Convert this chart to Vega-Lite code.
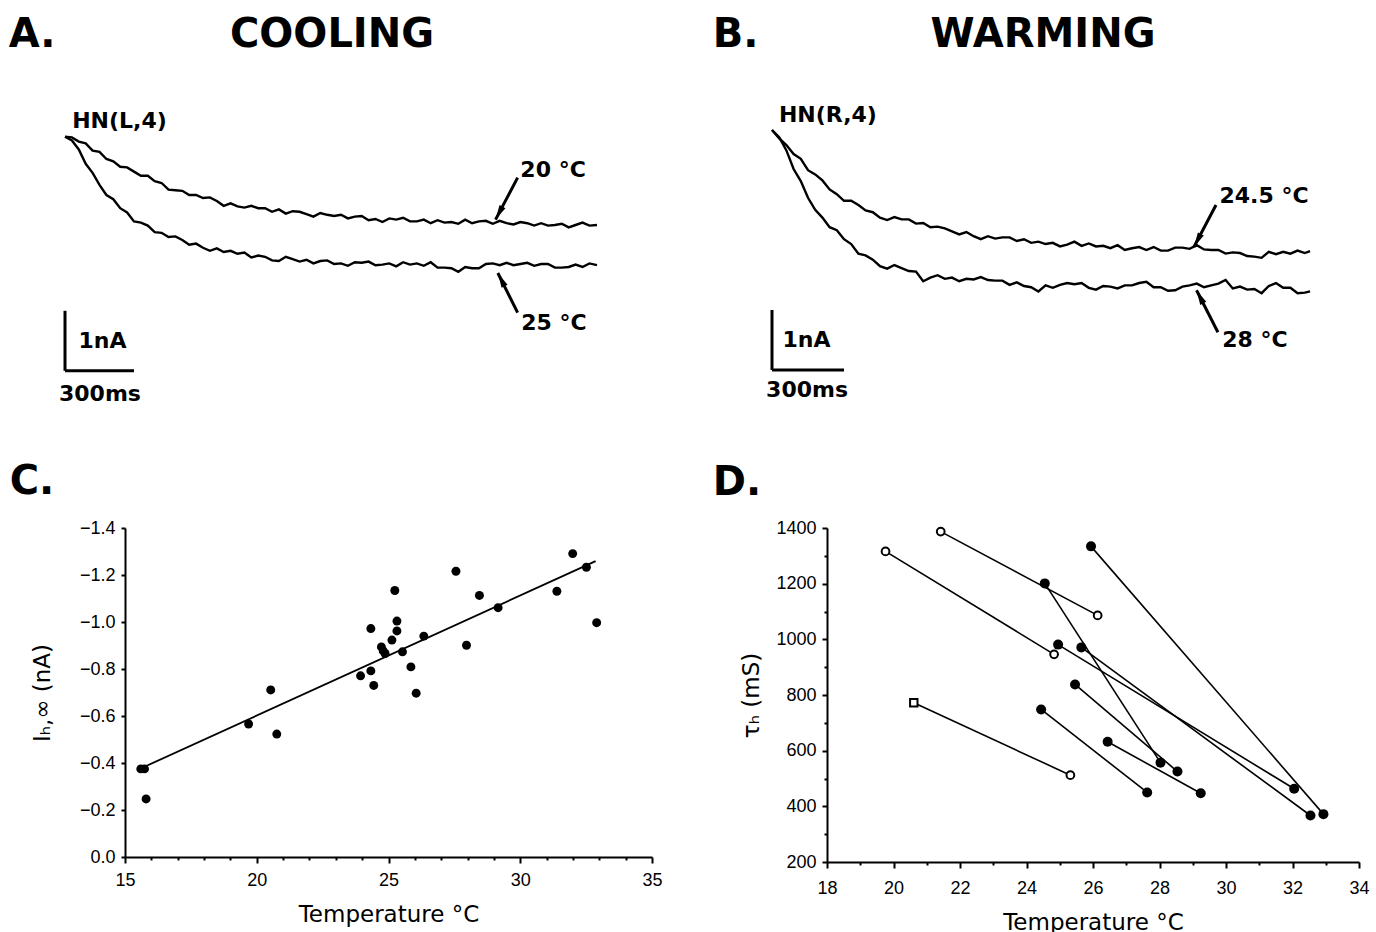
{
  "$schema": "https://vega.github.io/schema/vega-lite/v6.json",
  "background": "white",
  "padding": 0,
  "bounds": "flush",
  "spacing": 108,
  "datasets": {
    "a_tr": [
      {"s":"20","t":0,"i":0},{"s":"20","t":30,"i":-0.01},{"s":"20","t":60,"i":-0.08},{"s":"20","t":90,"i":-0.11},{"s":"20","t":120,"i":-0.23},{"s":"20","t":150,"i":-0.25},{"s":"20","t":180,"i":-0.37},{"s":"20","t":210,"i":-0.41},{"s":"20","t":240,"i":-0.50},{"s":"20","t":270,"i":-0.51},{"s":"20","t":300,"i":-0.58},{"s":"20","t":330,"i":-0.65},{"s":"20","t":360,"i":-0.65},{"s":"20","t":390,"i":-0.74},{"s":"20","t":420,"i":-0.77},{"s":"20","t":450,"i":-0.88},{"s":"20","t":480,"i":-0.89},{"s":"20","t":510,"i":-0.90},{"s":"20","t":540,"i":-0.97},{"s":"20","t":570,"i":-0.97},{"s":"20","t":600,"i":-1.02},{"s":"20","t":630,"i":-1.01},{"s":"20","t":660,"i":-1.07},{"s":"20","t":690,"i":-1.15},{"s":"20","t":720,"i":-1.11},{"s":"20","t":750,"i":-1.16},{"s":"20","t":780,"i":-1.18},{"s":"20","t":810,"i":-1.15},{"s":"20","t":840,"i":-1.19},{"s":"20","t":870,"i":-1.19},{"s":"20","t":900,"i":-1.25},{"s":"20","t":930,"i":-1.21},{"s":"20","t":960,"i":-1.28},{"s":"20","t":990,"i":-1.24},{"s":"20","t":1020,"i":-1.25},{"s":"20","t":1050,"i":-1.29},{"s":"20","t":1080,"i":-1.33},{"s":"20","t":1110,"i":-1.27},{"s":"20","t":1140,"i":-1.30},{"s":"20","t":1170,"i":-1.32},{"s":"20","t":1200,"i":-1.30},{"s":"20","t":1230,"i":-1.36},{"s":"20","t":1260,"i":-1.33},{"s":"20","t":1290,"i":-1.32},{"s":"20","t":1320,"i":-1.39},{"s":"20","t":1350,"i":-1.37},{"s":"20","t":1380,"i":-1.42},{"s":"20","t":1410,"i":-1.36},{"s":"20","t":1440,"i":-1.38},{"s":"20","t":1470,"i":-1.35},{"s":"20","t":1500,"i":-1.41},{"s":"20","t":1530,"i":-1.41},{"s":"20","t":1560,"i":-1.38},{"s":"20","t":1590,"i":-1.44},{"s":"20","t":1620,"i":-1.39},{"s":"20","t":1650,"i":-1.43},{"s":"20","t":1680,"i":-1.42},{"s":"20","t":1710,"i":-1.45},{"s":"20","t":1740,"i":-1.38},{"s":"20","t":1770,"i":-1.44},{"s":"20","t":1800,"i":-1.41},{"s":"20","t":1830,"i":-1.40},{"s":"20","t":1860,"i":-1.45},{"s":"20","t":1890,"i":-1.40},{"s":"20","t":1920,"i":-1.44},{"s":"20","t":1950,"i":-1.46},{"s":"20","t":1980,"i":-1.42},{"s":"20","t":2010,"i":-1.44},{"s":"20","t":2040,"i":-1.48},{"s":"20","t":2070,"i":-1.44},{"s":"20","t":2100,"i":-1.48},{"s":"20","t":2130,"i":-1.47},{"s":"20","t":2160,"i":-1.45},{"s":"20","t":2190,"i":-1.51},{"s":"20","t":2220,"i":-1.47},{"s":"20","t":2250,"i":-1.43},{"s":"20","t":2280,"i":-1.48},{"s":"20","t":2313,"i":-1.47},
      {"s":"25","t":0,"i":0},{"s":"25","t":30,"i":-0.06},{"s":"25","t":60,"i":-0.21},{"s":"25","t":90,"i":-0.45},{"s":"25","t":120,"i":-0.60},{"s":"25","t":150,"i":-0.80},{"s":"25","t":180,"i":-0.97},{"s":"25","t":210,"i":-1.04},{"s":"25","t":240,"i":-1.19},{"s":"25","t":270,"i":-1.26},{"s":"25","t":300,"i":-1.41},{"s":"25","t":330,"i":-1.43},{"s":"25","t":360,"i":-1.48},{"s":"25","t":390,"i":-1.59},{"s":"25","t":420,"i":-1.60},{"s":"25","t":450,"i":-1.67},{"s":"25","t":480,"i":-1.66},{"s":"25","t":510,"i":-1.72},{"s":"25","t":540,"i":-1.80},{"s":"25","t":570,"i":-1.78},{"s":"25","t":600,"i":-1.85},{"s":"25","t":630,"i":-1.90},{"s":"25","t":660,"i":-1.86},{"s":"25","t":690,"i":-1.92},{"s":"25","t":720,"i":-1.90},{"s":"25","t":750,"i":-1.95},{"s":"25","t":780,"i":-1.93},{"s":"25","t":810,"i":-2.01},{"s":"25","t":840,"i":-1.98},{"s":"25","t":870,"i":-2.00},{"s":"25","t":900,"i":-2.06},{"s":"25","t":930,"i":-2.07},{"s":"25","t":960,"i":-2.00},{"s":"25","t":990,"i":-2.04},{"s":"25","t":1020,"i":-2.08},{"s":"25","t":1050,"i":-2.05},{"s":"25","t":1080,"i":-2.11},{"s":"25","t":1110,"i":-2.07},{"s":"25","t":1140,"i":-2.06},{"s":"25","t":1170,"i":-2.12},{"s":"25","t":1200,"i":-2.11},{"s":"25","t":1230,"i":-2.15},{"s":"25","t":1260,"i":-2.09},{"s":"25","t":1290,"i":-2.10},{"s":"25","t":1320,"i":-2.08},{"s":"25","t":1350,"i":-2.14},{"s":"25","t":1380,"i":-2.13},{"s":"25","t":1410,"i":-2.11},{"s":"25","t":1440,"i":-2.16},{"s":"25","t":1470,"i":-2.09},{"s":"25","t":1500,"i":-2.13},{"s":"25","t":1530,"i":-2.11},{"s":"25","t":1560,"i":-2.15},{"s":"25","t":1590,"i":-2.09},{"s":"25","t":1620,"i":-2.18},{"s":"25","t":1650,"i":-2.18},{"s":"25","t":1680,"i":-2.19},{"s":"25","t":1710,"i":-2.25},{"s":"25","t":1740,"i":-2.17},{"s":"25","t":1770,"i":-2.19},{"s":"25","t":1800,"i":-2.19},{"s":"25","t":1830,"i":-2.12},{"s":"25","t":1860,"i":-2.11},{"s":"25","t":1890,"i":-2.14},{"s":"25","t":1920,"i":-2.10},{"s":"25","t":1950,"i":-2.14},{"s":"25","t":1980,"i":-2.12},{"s":"25","t":2010,"i":-2.10},{"s":"25","t":2040,"i":-2.15},{"s":"25","t":2070,"i":-2.12},{"s":"25","t":2100,"i":-2.12},{"s":"25","t":2130,"i":-2.18},{"s":"25","t":2160,"i":-2.18},{"s":"25","t":2190,"i":-2.17},{"s":"25","t":2220,"i":-2.13},{"s":"25","t":2250,"i":-2.17},{"s":"25","t":2280,"i":-2.11},{"s":"25","t":2313,"i":-2.14}
    ],
    "b_tr": [
      {"s":"24.5","t":0,"i":0},{"s":"24.5","t":30,"i":-0.14},{"s":"24.5","t":60,"i":-0.25},{"s":"24.5","t":90,"i":-0.40},{"s":"24.5","t":120,"i":-0.48},{"s":"24.5","t":150,"i":-0.67},{"s":"24.5","t":180,"i":-0.74},{"s":"24.5","t":210,"i":-0.84},{"s":"24.5","t":240,"i":-0.99},{"s":"24.5","t":270,"i":-1.07},{"s":"24.5","t":300,"i":-1.18},{"s":"24.5","t":330,"i":-1.18},{"s":"24.5","t":360,"i":-1.25},{"s":"24.5","t":390,"i":-1.34},{"s":"24.5","t":420,"i":-1.37},{"s":"24.5","t":450,"i":-1.46},{"s":"24.5","t":480,"i":-1.50},{"s":"24.5","t":510,"i":-1.45},{"s":"24.5","t":540,"i":-1.49},{"s":"24.5","t":570,"i":-1.49},{"s":"24.5","t":600,"i":-1.56},{"s":"24.5","t":630,"i":-1.55},{"s":"24.5","t":660,"i":-1.62},{"s":"24.5","t":690,"i":-1.61},{"s":"24.5","t":720,"i":-1.64},{"s":"24.5","t":750,"i":-1.69},{"s":"24.5","t":780,"i":-1.74},{"s":"24.5","t":810,"i":-1.70},{"s":"24.5","t":840,"i":-1.77},{"s":"24.5","t":870,"i":-1.82},{"s":"24.5","t":900,"i":-1.77},{"s":"24.5","t":930,"i":-1.81},{"s":"24.5","t":960,"i":-1.79},{"s":"24.5","t":990,"i":-1.79},{"s":"24.5","t":1020,"i":-1.85},{"s":"24.5","t":1050,"i":-1.82},{"s":"24.5","t":1080,"i":-1.88},{"s":"24.5","t":1110,"i":-1.86},{"s":"24.5","t":1140,"i":-1.90},{"s":"24.5","t":1170,"i":-1.88},{"s":"24.5","t":1200,"i":-1.94},{"s":"24.5","t":1230,"i":-1.91},{"s":"24.5","t":1260,"i":-1.86},{"s":"24.5","t":1290,"i":-1.93},{"s":"24.5","t":1320,"i":-1.89},{"s":"24.5","t":1350,"i":-1.94},{"s":"24.5","t":1380,"i":-1.93},{"s":"24.5","t":1410,"i":-1.97},{"s":"24.5","t":1440,"i":-1.92},{"s":"24.5","t":1470,"i":-2.00},{"s":"24.5","t":1500,"i":-1.97},{"s":"24.5","t":1530,"i":-1.95},{"s":"24.5","t":1560,"i":-2.00},{"s":"24.5","t":1590,"i":-1.95},{"s":"24.5","t":1620,"i":-2.01},{"s":"24.5","t":1650,"i":-2.01},{"s":"24.5","t":1680,"i":-1.96},{"s":"24.5","t":1710,"i":-1.96},{"s":"24.5","t":1740,"i":-1.98},{"s":"24.5","t":1770,"i":-1.92},{"s":"24.5","t":1800,"i":-1.99},{"s":"24.5","t":1830,"i":-2.00},{"s":"24.5","t":1860,"i":-2.00},{"s":"24.5","t":1890,"i":-2.06},{"s":"24.5","t":1920,"i":-2.04},{"s":"24.5","t":1950,"i":-2.05},{"s":"24.5","t":1980,"i":-2.10},{"s":"24.5","t":2010,"i":-2.11},{"s":"24.5","t":2040,"i":-2.13},{"s":"24.5","t":2070,"i":-2.03},{"s":"24.5","t":2100,"i":-2.07},{"s":"24.5","t":2130,"i":-2.03},{"s":"24.5","t":2160,"i":-2.06},{"s":"24.5","t":2190,"i":-2.01},{"s":"24.5","t":2220,"i":-2.05},{"s":"24.5","t":2242,"i":-2.02},
      {"s":"28","t":0,"i":0},{"s":"28","t":30,"i":-0.12},{"s":"28","t":60,"i":-0.34},{"s":"28","t":90,"i":-0.65},{"s":"28","t":120,"i":-0.85},{"s":"28","t":150,"i":-1.13},{"s":"28","t":180,"i":-1.33},{"s":"28","t":210,"i":-1.46},{"s":"28","t":240,"i":-1.62},{"s":"28","t":270,"i":-1.67},{"s":"28","t":300,"i":-1.82},{"s":"28","t":330,"i":-1.90},{"s":"28","t":360,"i":-2.06},{"s":"28","t":390,"i":-2.09},{"s":"28","t":420,"i":-2.16},{"s":"28","t":450,"i":-2.27},{"s":"28","t":480,"i":-2.31},{"s":"28","t":510,"i":-2.25},{"s":"28","t":540,"i":-2.30},{"s":"28","t":570,"i":-2.35},{"s":"28","t":600,"i":-2.36},{"s":"28","t":630,"i":-2.52},{"s":"28","t":660,"i":-2.46},{"s":"28","t":690,"i":-2.42},{"s":"28","t":720,"i":-2.48},{"s":"28","t":750,"i":-2.46},{"s":"28","t":780,"i":-2.52},{"s":"28","t":810,"i":-2.48},{"s":"28","t":840,"i":-2.49},{"s":"28","t":870,"i":-2.45},{"s":"28","t":900,"i":-2.50},{"s":"28","t":930,"i":-2.51},{"s":"28","t":960,"i":-2.51},{"s":"28","t":990,"i":-2.58},{"s":"28","t":1020,"i":-2.54},{"s":"28","t":1050,"i":-2.60},{"s":"28","t":1080,"i":-2.62},{"s":"28","t":1110,"i":-2.69},{"s":"28","t":1140,"i":-2.59},{"s":"28","t":1170,"i":-2.63},{"s":"28","t":1200,"i":-2.58},{"s":"28","t":1230,"i":-2.55},{"s":"28","t":1260,"i":-2.57},{"s":"28","t":1290,"i":-2.55},{"s":"28","t":1320,"i":-2.63},{"s":"28","t":1350,"i":-2.66},{"s":"28","t":1380,"i":-2.60},{"s":"28","t":1410,"i":-2.61},{"s":"28","t":1440,"i":-2.64},{"s":"28","t":1470,"i":-2.59},{"s":"28","t":1500,"i":-2.59},{"s":"28","t":1530,"i":-2.55},{"s":"28","t":1560,"i":-2.53},{"s":"28","t":1590,"i":-2.62},{"s":"28","t":1620,"i":-2.62},{"s":"28","t":1650,"i":-2.68},{"s":"28","t":1680,"i":-2.67},{"s":"28","t":1710,"i":-2.61},{"s":"28","t":1740,"i":-2.59},{"s":"28","t":1770,"i":-2.56},{"s":"28","t":1800,"i":-2.62},{"s":"28","t":1830,"i":-2.59},{"s":"28","t":1860,"i":-2.56},{"s":"28","t":1890,"i":-2.50},{"s":"28","t":1920,"i":-2.64},{"s":"28","t":1950,"i":-2.61},{"s":"28","t":1980,"i":-2.66},{"s":"28","t":2010,"i":-2.65},{"s":"28","t":2040,"i":-2.72},{"s":"28","t":2070,"i":-2.60},{"s":"28","t":2100,"i":-2.55},{"s":"28","t":2130,"i":-2.63},{"s":"28","t":2160,"i":-2.63},{"s":"28","t":2190,"i":-2.72},{"s":"28","t":2220,"i":-2.71},{"s":"28","t":2242,"i":-2.69}
    ],
    "a_bar": [{"t":0,"i":-2.9,"t2":0,"i2":-3.9},{"t":0,"i":-3.9,"t2":300,"i2":-3.9}],
    "b_bar": [{"t":0,"i":-3.0,"t2":0,"i2":-4.0},{"t":0,"i":-4.0,"t2":300,"i2":-4.0}],
    "a_arrows": [{"t":1968,"i":-0.68,"t2":1872,"i2":-1.38,"dir":"down"},{"t":1968,"i":-2.93,"t2":1882,"i2":-2.27,"dir":"up"}],
    "b_arrows": [{"t":1850,"i":-1.25,"t2":1758,"i2":-1.95,"dir":"down"},{"t":1858,"i":-3.37,"t2":1769,"i2":-2.67,"dir":"up"}],
    "a_big": [{"t":-143,"i":1.70,"label":"A."},{"t":1161,"i":1.70,"label":"COOLING"}],
    "b_big": [{"t":-152,"i":1.58,"label":"B."},{"t":1129,"i":1.58,"label":"WARMING"}],
    "a_small": [{"t":237,"i":0.27,"label":"HN(L,4)"},{"t":2122,"i":-0.55,"label":"20 °C"},{"t":2126,"i":-3.10,"label":"25 °C"},{"t":163,"i":-3.40,"label":"1nA"},{"t":152,"i":-4.28,"label":"300ms"}],
    "b_small": [{"t":233,"i":0.25,"label":"HN(R,4)"},{"t":2050,"i":-1.10,"label":"24.5 °C"},{"t":2012,"i":-3.50,"label":"28 °C"},{"t":144,"i":-3.50,"label":"1nA"},{"t":146,"i":-4.33,"label":"300ms"}],
    "c_pts": [{"T":15.6,"I":-0.375},{"T":15.74,"I":-0.375},{"T":15.8,"I":-0.247},{"T":19.69,"I":-0.566},{"T":20.53,"I":-0.711},{"T":20.76,"I":-0.523},{"T":23.94,"I":-0.771},{"T":24.33,"I":-0.792},{"T":24.33,"I":-0.972},{"T":24.44,"I":-0.730},{"T":24.73,"I":-0.894},{"T":24.8,"I":-0.877},{"T":24.87,"I":-0.866},{"T":25.13,"I":-0.923},{"T":25.24,"I":-1.134},{"T":25.32,"I":-1.004},{"T":25.32,"I":-0.962},{"T":25.53,"I":-0.873},{"T":25.85,"I":-0.809},{"T":26.05,"I":-0.697},{"T":26.34,"I":-0.94},{"T":27.56,"I":-1.216},{"T":27.96,"I":-0.901},{"T":28.45,"I":-1.113},{"T":29.16,"I":-1.061},{"T":31.39,"I":-1.131},{"T":31.99,"I":-1.291},{"T":32.51,"I":-1.233},{"T":32.9,"I":-0.997}],
    "c_fit": [{"T":15.7,"I":-0.382},{"T":32.86,"I":-1.259}],
    "c_lab": [{"T":11.47,"I":-1.595,"label":"C."}],
    "d_lab": [{"T":15.29,"ms":1562,"label":"D."}],
    "d_pts": [
      {"T":19.76,"ms":1316,"kind":"open"},{"T":21.42,"ms":1387,"kind":"open"},{"T":26.14,"ms":1086,"kind":"open"},{"T":24.83,"ms":946,"kind":"open"},{"T":20.61,"ms":772,"kind":"square"},{"T":25.32,"ms":512,"kind":"open"},
      {"T":24.55,"ms":1201,"kind":"filled"},{"T":25.94,"ms":1334,"kind":"filled"},{"T":24.95,"ms":981,"kind":"filled"},{"T":25.65,"ms":971,"kind":"filled"},{"T":25.46,"ms":838,"kind":"filled"},{"T":24.44,"ms":748,"kind":"filled"},{"T":26.44,"ms":632,"kind":"filled"},{"T":28.03,"ms":557,"kind":"filled"},{"T":28.54,"ms":525,"kind":"filled"},{"T":27.63,"ms":450,"kind":"filled"},{"T":29.24,"ms":447,"kind":"filled"},{"T":32.05,"ms":463,"kind":"filled"},{"T":32.54,"ms":367,"kind":"filled"},{"T":32.93,"ms":372,"kind":"filled"}
    ],
    "d_lines": [
      {"T":19.76,"ms":1316,"T2":24.83,"ms2":946},{"T":21.42,"ms":1387,"T2":26.14,"ms2":1086},{"T":24.55,"ms":1201,"T2":28.03,"ms2":557},{"T":25.94,"ms":1334,"T2":32.93,"ms2":372},{"T":24.95,"ms":981,"T2":32.05,"ms2":463},{"T":25.65,"ms":971,"T2":32.54,"ms2":367},{"T":25.46,"ms":838,"T2":28.54,"ms2":525},{"T":24.44,"ms":748,"T2":27.63,"ms2":450},{"T":26.44,"ms":632,"T2":29.24,"ms2":447},{"T":20.61,"ms":772,"T2":25.32,"ms2":512}
    ]
  },
  "vconcat": [
    {
      "width": 1376,
      "height": 420,
      "layer": [
        {
          "encoding": {
            "x": {"field":"t","type":"quantitative","scale":{"domain":[-282.6,5700],"nice":false,"zero":false},"axis":null},
            "y": {"field":"i","type":"quantitative","scale":{"domain":[-4.72,2.28],"nice":false,"zero":false},"axis":null}
          },
          "layer": [
            {"data":{"name":"a_tr"},"mark":{"type":"line","color":"black","strokeWidth":2.4},"encoding":{"detail":{"field":"s"}}},
            {"data":{"name":"a_bar"},"mark":{"type":"rule","color":"black","strokeWidth":3},"encoding":{"x2":{"field":"t2"},"y2":{"field":"i2"}}},
            {"data":{"name":"a_arrows"},"mark":{"type":"rule","color":"black","strokeWidth":3},"encoding":{"x2":{"field":"t2"},"y2":{"field":"i2"}}},
            {"data":{"name":"a_arrows"},"transform":[{"filter":"datum.dir == 'down'"}],"mark":{"type":"point","shape":"M0,0L0.5,2.2L-0.5,2.2Z","filled":true,"color":"black","opacity":1,"size":180,"angle":208},
             "encoding":{"x":{"field":"t2","type":"quantitative","scale":{"domain":[-282.6,5700],"nice":false,"zero":false},"axis":null},"y":{"field":"i2","type":"quantitative","scale":{"domain":[-4.72,2.28],"nice":false,"zero":false},"axis":null}}},
            {"data":{"name":"a_arrows"},"transform":[{"filter":"datum.dir == 'up'"}],"mark":{"type":"point","shape":"M0,0L0.5,2.2L-0.5,2.2Z","filled":true,"color":"black","opacity":1,"size":180,"angle":333},
             "encoding":{"x":{"field":"t2","type":"quantitative","scale":{"domain":[-282.6,5700],"nice":false,"zero":false},"axis":null},"y":{"field":"i2","type":"quantitative","scale":{"domain":[-4.72,2.28],"nice":false,"zero":false},"axis":null}}},
            {"data":{"name":"a_big"},"mark":{"type":"text","font":"DejaVu Sans","fontWeight":"bold","fontSize":40,"align":"center","baseline":"middle","color":"black"},"encoding":{"text":{"field":"label"}}},
            {"data":{"name":"a_small"},"mark":{"type":"text","font":"DejaVu Sans","fontWeight":"bold","fontSize":22,"align":"center","baseline":"middle","color":"black"},"encoding":{"text":{"field":"label"}}}
          ]
        },
        {
          "encoding": {
            "x": {"field":"t","type":"quantitative","scale":{"domain":[-3216.7,2516.7],"nice":false,"zero":false},"axis":null},
            "y": {"field":"i","type":"quantitative","scale":{"domain":[-4.833,2.167],"nice":false,"zero":false},"axis":null}
          },
          "layer": [
            {"data":{"name":"b_tr"},"mark":{"type":"line","color":"black","strokeWidth":2.4},"encoding":{"detail":{"field":"s"}}},
            {"data":{"name":"b_bar"},"mark":{"type":"rule","color":"black","strokeWidth":3},"encoding":{"x2":{"field":"t2"},"y2":{"field":"i2"}}},
            {"data":{"name":"b_arrows"},"mark":{"type":"rule","color":"black","strokeWidth":3},"encoding":{"x2":{"field":"t2"},"y2":{"field":"i2"}}},
            {"data":{"name":"b_arrows"},"transform":[{"filter":"datum.dir == 'down'"}],"mark":{"type":"point","shape":"M0,0L0.5,2.2L-0.5,2.2Z","filled":true,"color":"black","opacity":1,"size":180,"angle":208},
             "encoding":{"x":{"field":"t2","type":"quantitative","scale":{"domain":[-3216.7,2516.7],"nice":false,"zero":false},"axis":null},"y":{"field":"i2","type":"quantitative","scale":{"domain":[-4.833,2.167],"nice":false,"zero":false},"axis":null}}},
            {"data":{"name":"b_arrows"},"transform":[{"filter":"datum.dir == 'up'"}],"mark":{"type":"point","shape":"M0,0L0.5,2.2L-0.5,2.2Z","filled":true,"color":"black","opacity":1,"size":180,"angle":333},
             "encoding":{"x":{"field":"t2","type":"quantitative","scale":{"domain":[-3216.7,2516.7],"nice":false,"zero":false},"axis":null},"y":{"field":"i2","type":"quantitative","scale":{"domain":[-4.833,2.167],"nice":false,"zero":false},"axis":null}}},
            {"data":{"name":"b_big"},"mark":{"type":"text","font":"DejaVu Sans","fontWeight":"bold","fontSize":40,"align":"center","baseline":"middle","color":"black"},"encoding":{"text":{"field":"label"}}},
            {"data":{"name":"b_small"},"mark":{"type":"text","font":"DejaVu Sans","fontWeight":"bold","fontSize":22,"align":"center","baseline":"middle","color":"black"},"encoding":{"text":{"field":"label"}}}
          ]
        }
      ],
      "resolve": {"scale": {"x": "independent", "y": "independent"}}
    },
    {
      "bounds": "flush",
      "spacing": 0,
      "hconcat": [
        {"width":125,"height":10,"data":{"values":[]},"mark":{"type":"point","opacity":0},"encoding":{}},
        {
          "width": 527,
          "height": 329,
          "encoding": {
            "x": {"field":"T","type":"quantitative","scale":{"domain":[15,35],"nice":false,"zero":false},
              "axis":{"values":[15,16,17,18,19,20,21,22,23,24,25,26,27,28,29,30,31,32,33,34,35],"labelExpr":"datum.value % 5 == 0 ? datum.label : ''","tickSize":{"condition":{"test":"datum.value % 5 == 0","value":6},"value":3},"labelPadding":8,"title":"Temperature °C","titlePadding":14}},
            "y": {"field":"I","type":"quantitative","scale":{"domain":[-1.4,0],"reverse":true,"nice":false,"zero":false},
              "axis":{"values":[-1.4,-1.2,-1.0,-0.8,-0.6,-0.4,-0.2,0],"format":".1f","tickSize":4,"labelPadding":6,"title":"Iₕ,∞ (nA)","titlePadding":25}}
          },
          "layer": [
            {"data":{"name":"c_fit"},"mark":{"type":"line","color":"black","strokeWidth":1.8}},
            {"data":{"name":"c_pts"},"mark":{"type":"circle","color":"black","opacity":1,"size":80}},
            {"data":{"name":"c_lab"},"mark":{"type":"text","font":"DejaVu Sans","fontWeight":"bold","fontSize":40,"align":"center","baseline":"middle","color":"black"},"encoding":{"text":{"field":"label"}}}
          ]
        },
        {"width":175,"height":10,"data":{"values":[]},"mark":{"type":"point","opacity":0},"encoding":{}},
        {
          "width": 532,
          "height": 334,
          "encoding": {
            "x": {"field":"T","type":"quantitative","scale":{"domain":[18,34],"nice":false,"zero":false},
              "axis":{"values":[18,19,20,21,22,23,24,25,26,27,28,29,30,31,32,33,34],"labelExpr":"datum.value % 2 == 0 ? datum.label : ''","tickSize":{"condition":{"test":"datum.value % 2 == 0","value":6},"value":3},"labelPadding":11,"title":"Temperature °C","titlePadding":14}},
            "y": {"field":"ms","type":"quantitative","scale":{"domain":[200,1400],"nice":false,"zero":false},
              "axis":{"values":[200,300,400,500,600,700,800,900,1000,1100,1200,1300,1400],"format":"d","labelExpr":"datum.value % 200 == 0 ? datum.label : ''","tickSize":{"condition":{"test":"datum.value % 200 == 0","value":5},"value":3},"labelPadding":6,"title":"τₕ (mS)","titlePadding":12}}
          },
          "layer": [
            {"data":{"name":"d_lines"},"mark":{"type":"rule","color":"black","strokeWidth":1.6},"encoding":{"x2":{"field":"T2"},"y2":{"field":"ms2"}}},
            {"data":{"name":"d_pts"},"transform":[{"filter":"datum.kind == 'filled'"}],"mark":{"type":"point","shape":"circle","filled":true,"color":"black","opacity":1,"size":100}},
            {"data":{"name":"d_pts"},"transform":[{"filter":"datum.kind == 'open'"}],"mark":{"type":"point","shape":"circle","filled":true,"fill":"white","stroke":"black","strokeWidth":2,"opacity":1,"size":60}},
            {"data":{"name":"d_pts"},"transform":[{"filter":"datum.kind == 'square'"}],"mark":{"type":"point","shape":"square","filled":true,"fill":"white","stroke":"black","strokeWidth":2,"opacity":1,"size":55}},
            {"data":{"name":"d_lab"},"mark":{"type":"text","font":"DejaVu Sans","fontWeight":"bold","fontSize":40,"align":"center","baseline":"middle","color":"black"},"encoding":{"text":{"field":"label"}}}
          ]
        }
      ]
    }
  ],
  "config": {
    "view": {"stroke": null},
    "axis": {"grid": false, "domainColor": "black", "domainWidth": 2, "tickColor": "black", "tickWidth": 2, "labelColor": "black", "labelFont": "Liberation Sans", "labelFontSize": 18, "labelFlush": false, "labelOverlap": false, "titleFont": "DejaVu Sans", "titleFontSize": 23, "titleFontWeight": "normal", "titleColor": "black"}
  }
}
